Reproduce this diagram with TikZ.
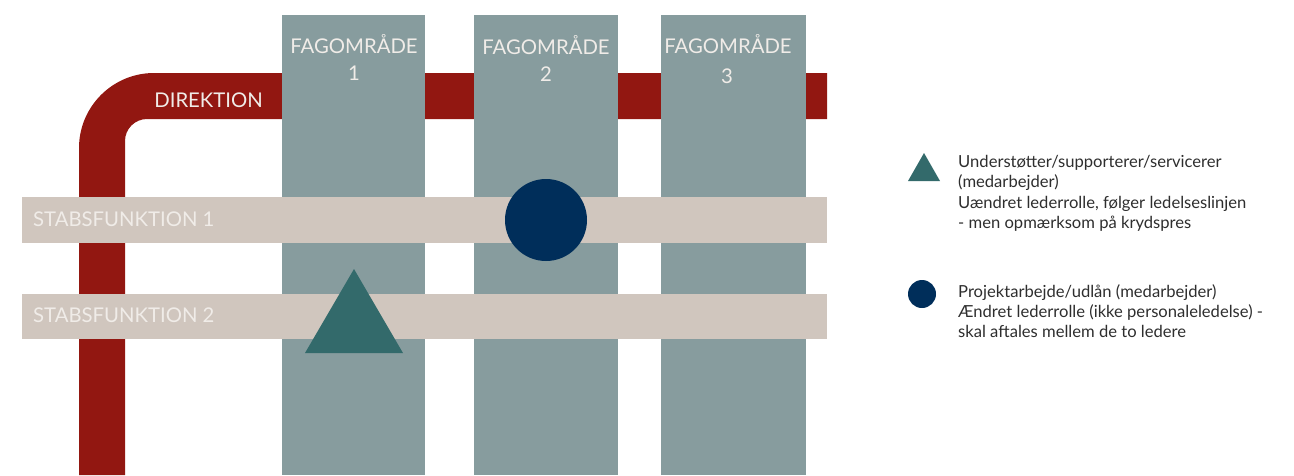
\documentclass[tikz,border=0pt]{standalone}
\usepackage{fontspec}
\setmainfont{Lato}
\definecolor{dirred}{HTML}{921711}
\definecolor{colgrey}{HTML}{879C9E}
\definecolor{stabbeige}{HTML}{D0C6BE}
\definecolor{navy}{HTML}{002E5A}
\definecolor{teal}{HTML}{336A6B}
\definecolor{lighttext}{HTML}{F0ECE8}
\definecolor{darktext}{HTML}{2E2E2E}
\begin{document}
\begin{tikzpicture}[x=1pt,y=-1pt,
  boxtext/.style={text=lighttext,font=\fontsize{20.3}{24}\selectfont,inner sep=0pt},
  legtext/.style={text=darktext,font=\fontsize{16.6}{20}\selectfont,inner sep=0pt,anchor=base west},
  column/.style={fill=colgrey},
  stab/.style={fill=stabbeige}]
\useasboundingbox (0,0) rectangle (1294,475);
% Direktion line
\fill[dirred] (79,475) -- (79,148) .. controls (79,106.6) and (112.6,73) .. (154,73)
  -- (827,73) -- (827,119) -- (147,119) .. controls (134.9,119) and (125,128.9) .. (125,141)
  -- (125,475) -- cycle;
% columns
\fill[column] (282,15) rectangle (425,475);
\fill[column] (474,15) rectangle (618,475);
\fill[column] (661,15) rectangle (806,475);
% stab bands
\fill[stab] (22,197) rectangle (827,243);
\fill[stab] (22,294) rectangle (827,339);
% symbols
\fill[navy] (546,220) circle[radius=41];
\fill[teal] (354,269) -- (403,353) -- (305,353) -- cycle;
% texts
\node[boxtext,anchor=base east] (dir) at (263,107) {DIREKTION};
\node[boxtext,anchor=base] (f1) at (354,53) {FAGOMRÅDE};
\node[boxtext,anchor=base] (n1) at (354,80) {1};
\node[boxtext,anchor=base] (f2) at (546,54) {FAGOMRÅDE};
\node[boxtext,anchor=base] (n2) at (546,81) {2};
\node[boxtext,anchor=base] (f3) at (728,53) {FAGOMRÅDE};
\node[boxtext,anchor=base] (n3) at (727,83) {3};
\node[boxtext,anchor=base west] (s1) at (33,226) {STABSFUNKTION 1};
\node[boxtext,anchor=base west] (s2) at (33,322) {STABSFUNKTION 2};
% legend
\fill[teal] (924,153) -- (940,181) -- (908,181) -- cycle;
\fill[navy] (922,294) circle[radius=14];
\node[legtext] (l1a) at (958,167) {Understøtter/supporterer/servicerer};
\node[legtext] (l1b) at (958,187.5) {(medarbejder)};
\node[legtext] (l1c) at (958,208) {Uændret lederrolle, følger ledelseslinjen};
\node[legtext] (l1d) at (958,228.5) {- men opmærksom på krydspres};
\node[legtext] (l2a) at (958,297) {Projektarbejde/udlån (medarbejder)};
\node[legtext] (l2b) at (958,317) {Ændret lederrolle (ikke personaleledelse) -};
\node[legtext] (l2c) at (958,337) {skal aftales mellem de to ledere};
\end{tikzpicture}
\end{document}
